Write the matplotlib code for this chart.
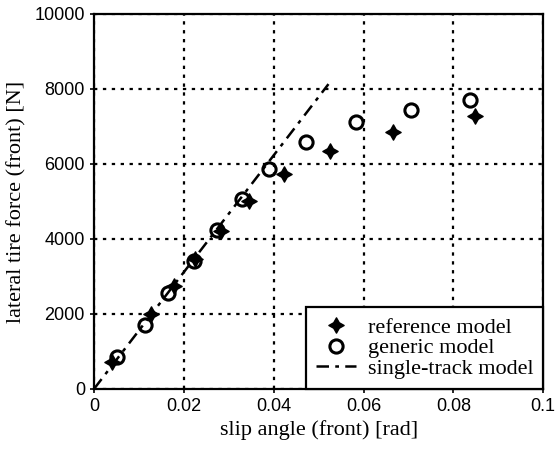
import numpy as np
import matplotlib
matplotlib.use("Agg")
from matplotlib import pyplot as plt
from matplotlib.path import Path

# reference model (filled star markers)
ref_x = [0.0041, 0.0126, 0.0178, 0.0226, 0.0282, 0.0344, 0.0422, 0.0526, 0.0665, 0.0848]
ref_y = [710, 2000, 2755, 3467, 4220, 5020, 5733, 6355, 6860, 7280]

# generic model (open circles)
gen_x = [0.0052, 0.0113, 0.0164, 0.0222, 0.0273, 0.0330, 0.0389, 0.0473, 0.0584, 0.0706, 0.0836]
gen_y = [843, 1715, 2550, 3420, 4240, 5067, 5867, 6577, 7110, 7440, 7707]

# single-track model (linear)
st_x = [0.0, 0.0522]
st_y = [0.0, 8130]

xticks = [0, 0.02, 0.04, 0.06, 0.08, 0.1]
xticklabels = ["0", "0.02", "0.04", "0.06", "0.08", "0.1"]
yticks = [0, 2000, 4000, 6000, 8000, 10000]

# 4-pointed concave star
a = 0.36
verts = [(0, 1), (a, a), (1, 0), (a, -a), (0, -1), (-a, -a), (-1, 0), (-a, a), (0, 1)]
codes = [Path.MOVETO] + [Path.LINETO] * 7 + [Path.CLOSEPOLY]
star4 = Path(verts, codes)

serif = "Liberation Serif"
sans = "Liberation Sans"

fig = plt.figure(figsize=(5.56, 4.51), dpi=100)
ax = fig.add_axes([0.169, 0.1375, 0.808, 0.8315])

ax.plot(ref_x, ref_y, linestyle="none", marker=star4, markersize=11,
        color="black", label="reference model", zorder=3)
ax.plot(gen_x, gen_y, linestyle="none", marker="o", markersize=9.5,
        markerfacecolor="none", markeredgecolor="black", markeredgewidth=2.2,
        label="generic model", zorder=3)
ax.plot(st_x, st_y, color="black", linewidth=1.8, linestyle=(0, (5, 2.5, 1.5, 2.5)),
        label="single-track model", zorder=2)

ax.set_xlim(0, 0.1)
ax.set_ylim(0, 10000)
ax.set_xticks(xticks)
ax.set_xticklabels(xticklabels)
ax.set_yticks(yticks)
ax.grid(True, color="black", linestyle=(0, (1.5, 2.5)), linewidth=1.6)
ax.set_axisbelow(True)

for s in ax.spines.values():
    s.set_linewidth(1.6)
ax.tick_params(direction="out", length=3, width=1.2, labelsize=13)
for lab in ax.get_xticklabels() + ax.get_yticklabels():
    lab.set_fontfamily(sans)

ax.set_xlabel("slip angle (front) [rad]", fontsize=16, fontfamily=serif, labelpad=4)
ax.set_ylabel("lateral tire force (front) [N]", fontsize=16, fontfamily=serif, labelpad=6)

leg = ax.legend(loc="lower right", borderaxespad=0, fancybox=False,
                prop={"family": serif, "size": 16}, handlelength=1.8,
                handletextpad=0.5, labelspacing=0.0, borderpad=0.45)
leg.get_frame().set_edgecolor("black")
leg.get_frame().set_linewidth(1.6)
leg.get_frame().set_alpha(1)

fig.savefig("out.png", dpi=100)
